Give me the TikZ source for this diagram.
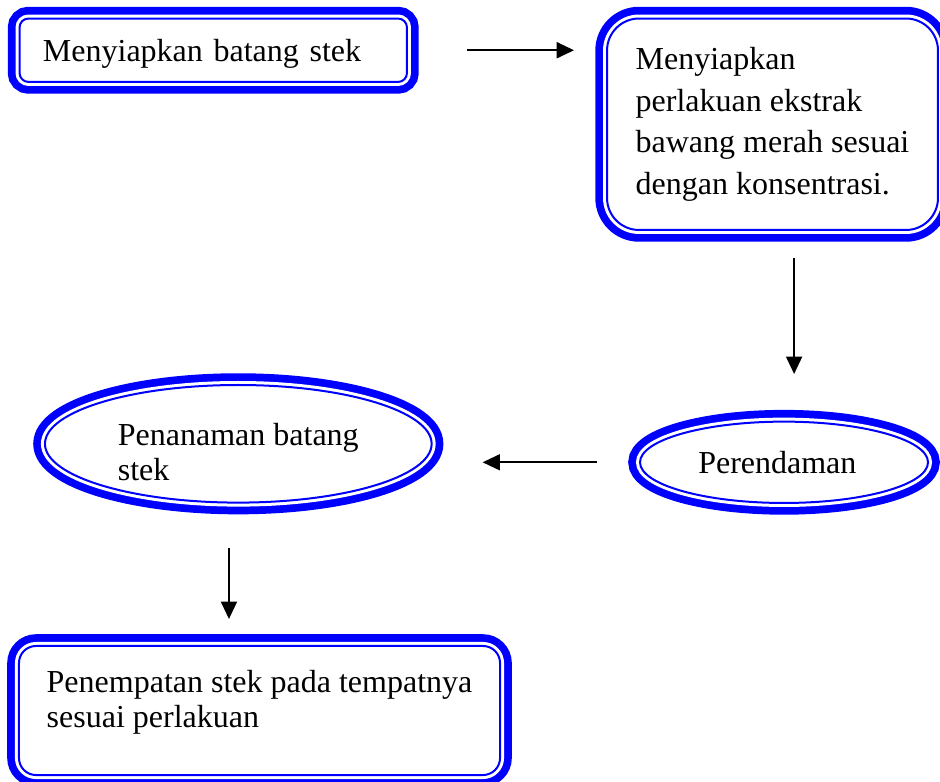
\documentclass[tikz,border=0pt]{standalone}
\usepackage{fontspec}
\setmainfont{Liberation Serif}
\usepackage{tikz}
\usetikzlibrary{arrows.meta, positioning, shapes.geometric}
\definecolor{boxblue}{RGB}{0,0,255}

\begin{document}
\begin{tikzpicture}[
  x=0.375pt, y=-0.375pt,
  framed/.style={draw=boxblue, line width=0.75pt, fill=white, inner sep=0pt,
    preaction={draw=boxblue, line width=8.8pt},
    preaction={draw=white, line width=3pt},
    font=\fontsize{12pt}{13.1pt}\selectfont},
  roundbox/.style={framed, rectangle, rounded corners=#1},
  oval/.style={framed, ellipse},
  arr/.style={-{Triangle[length=6.5pt, width=6pt]}, line width=0.7pt}
]
  \useasboundingbox (0,0) rectangle (940,782);
  \clip (0,0) rectangle (940,782);

  \node[roundbox=3.4pt, minimum width=145.3pt, minimum height=23.8pt, inner xsep=8.8pt,
        text width=127.7pt, text height=11.2pt, text depth=2.6pt, align=left]
        (stek) at (213.25,50.25) {Menyiapkan batang stek};
  \node[roundbox=12pt, minimum width=124.1pt, minimum height=79.3pt, align=left,
        font=\fontsize{12pt}{15.6pt}\selectfont]
        (ekstrak) at (772.5,124.25) {Menyiapkan\\ perlakuan ekstrak\\ bawang merah sesuai\\ dengan konsentrasi.};
  \node[oval, minimum width=108pt, minimum height=30.5pt] (rendam) at (784,462.3) {Perendaman\kern5pt};
  \node[oval, minimum width=145pt, minimum height=44.1pt, align=left]
        (tanam) at (238.3,443.8) {\rule{0pt}{14.5pt}Penanaman batang\\ stek};
  \node[roundbox=6.4pt, minimum width=180.4pt, minimum height=48.4pt, align=left]
        (tempat) at (259.5,710.5) {Penempatan stek pada tempatnya\\ sesuai perlakuan\rule[-9pt]{0pt}{9pt}};

  \draw[arr, shorten <=22.3pt, shorten >=12pt] (stek.east) -- (stek.east -| ekstrak.west);
  \draw[arr, shorten <=10.1pt, shorten >=17.5pt] ([xshift=8.1pt]ekstrak.south) -- ([xshift=8.1pt]ekstrak.south |- rendam.north);
  \draw[arr, shorten <=15.9pt, shorten >=18.75pt] (rendam.west) -- (rendam.west -| tanam.east);
  \draw[arr, shorten <=16.5pt, shorten >=9.75pt] ([xshift=-3.5pt]tanam.south) -- ([xshift=-3.5pt]tanam.south |- tempat.north);
\end{tikzpicture}
\end{document}
